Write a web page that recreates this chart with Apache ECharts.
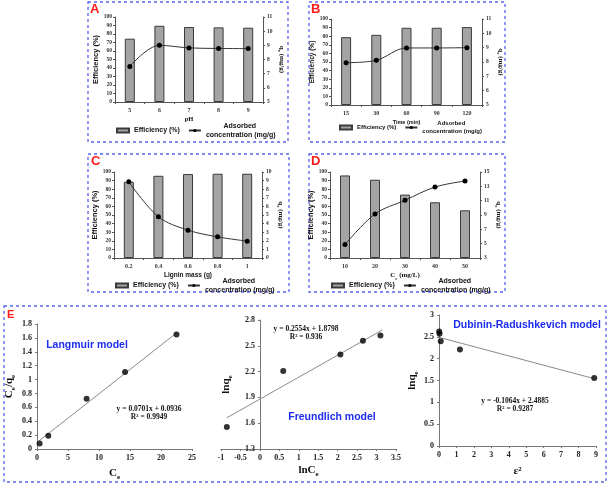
<!DOCTYPE html>
<html>
<head>
<meta charset="utf-8">
<script src="https://cdn.jsdelivr.net/npm/echarts@6/dist/echarts.min.js"></script>
<style>
  html, body { margin: 0; padding: 0; background: #fff; }
  #main { width: 610px; height: 484px; }
</style>
</head>
<body>
<div id="main"></div>
<script>
// panel A - pH
var catA = ['5', '6', '7', '8', '9']
var effA = [74.5, 89.7, 88.2, 87.8, 87.4]
var qeA = [7.5, 9.0, 8.82, 8.78, 8.77]
// panel B - time
var catB = ['15', '30', '60', '90', '120']
var effB = [78.9, 81.6, 89.8, 89.8, 90.6]
var qeB = [7.95, 8.12, 8.98, 8.98, 9.0]
// panel C - lignin mass
var catC = ['0.2', '0.4', '0.6', '0.8', '1']
var effC = [88.6, 95.6, 97.6, 98, 98]
var qeC = [8.86, 4.8, 3.24, 2.46, 1.96]
// panel D - Ce
var catD = ['10', '20', '30', '40', '50']
var effD = [96, 91, 73.7, 64.8, 55.5]
var qeD = [4.87, 9.14, 11.05, 12.9, 13.74]

// panel E - isotherms
var langX = [0.42, 1.82, 8.0, 14.2, 22.5]
var langY = [0.08, 0.19, 0.725, 1.11, 1.65]
var langFit = [0.0701, 0.0936]      // slope, intercept
var freuX = [-0.85, 0.6, 2.07, 2.65, 3.1]
var freuY = [1.556, 2.207, 2.40, 2.56, 2.62]
var freuFit = [0.2554, 1.8798]
var drX = [0.01, 0.03, 0.1, 1.2, 8.9]
var drY = [2.62, 2.57, 2.40, 2.21, 1.56]
var drFit = [-0.1064, 2.4885]

var myChart = echarts.init(document.getElementById('main'))

var serif = 'Liberation Serif'
var sans = 'Liberation Sans'
var blue = '#5b63ee'

function sub(size) {
	return {
		b: {fontFamily: serif, fontWeight: 'bold', fontSize: size, lineHeight: size, color: '#111', verticalAlign: 'top'},
		s: {fontFamily: serif, fontWeight: 'bold', fontSize: Math.round(size * 0.65), lineHeight: Math.round(size * 0.65), color: '#111', padding: [Math.round(size * 0.55), 0, 0, 0], verticalAlign: 'top'}
	}
}

var grids = [], xAxes = [], yAxes = [], series = [], legends = []

function topPanel(cats, eff, qe, layout) {
	var i = grids.length
	grids.push(layout.grid)
	var fs = layout.fs
	xAxes.push({
		type: 'category', gridIndex: i, data: cats,
		name: layout.xName, nameLocation: 'middle', nameGap: 14,
		nameTextStyle: layout.xRich ? {rich: sub(7)} : {fontFamily: layout.xSerif ? serif : sans, fontWeight: 'bold', fontSize: fs - 0.5, color: '#111'},
		axisLine: {lineStyle: {color: '#555', width: 1}},
		axisTick: {show: true, length: 2, lineStyle: {color: '#555'}},
		axisLabel: {fontFamily: serif, fontSize: 6, fontWeight: 'bold', color: '#333', margin: 5}
	})
	yAxes.push({
		type: 'value', gridIndex: i, min: 0, max: 100, interval: 10, position: 'left',
		name: 'Efficiency (%)', nameLocation: 'middle', nameGap: 15,
		nameTextStyle: {fontFamily: sans, fontWeight: 'bold', fontSize: fs + 0.5, color: '#111'},
		splitLine: {show: false},
		axisLine: {show: true, lineStyle: {color: '#555', width: 1}},
		axisTick: {show: true, length: 2, lineStyle: {color: '#555'}},
		axisLabel: {fontFamily: serif, fontSize: 5.5, fontWeight: 'bold', color: '#333', margin: 3}
	})
	yAxes.push({
		type: 'value', gridIndex: i, min: layout.rMin, max: layout.rMax, interval: layout.rInt, position: 'right',
		name: '{b|q}{s|e}{b| (mg/g)}', nameLocation: 'middle', nameGap: 13, nameRotate: -90,
		nameTextStyle: {rich: sub(7)},
		splitLine: {show: false},
		axisLine: {show: true, lineStyle: {color: '#555', width: 1}},
		axisTick: {show: true, length: 2, lineStyle: {color: '#555'}},
		axisLabel: {fontFamily: serif, fontSize: 5.5, fontWeight: 'bold', color: '#333', margin: 4}
	})
	series.push({
		type: 'bar', name: 'Efficiency (%)', xAxisIndex: i, yAxisIndex: 2 * i,
		data: eff, barWidth: 10,
		itemStyle: {color: '#a4a4a4', borderColor: '#3a3a3a', borderWidth: 1}
	})
	series.push({
		type: 'line', name: 'Adsorbed', xAxisIndex: i, yAxisIndex: 2 * i + 1,
		data: qe, smooth: 0.35, symbol: 'circle', symbolSize: 5,
		lineStyle: {color: '#333', width: 1}, itemStyle: {color: '#000'}
	})
	legends.push({
		left: layout.legendLeft, top: layout.legendTop, padding: 0,
		itemWidth: 12, itemHeight: 4, itemGap: layout.legendGap,
		selectedMode: false,
		data: [{name: 'Efficiency (%)', icon: 'rect'}, {name: 'Adsorbed'}],
		formatter: function (n) {
			return n == 'Adsorbed' ? '         Adsorbed\nconcentration (mg/g)' : n
		},
		textStyle: {fontFamily: sans, fontWeight: 'bold', fontSize: fs, color: '#111', lineHeight: fs + 1.5}
	})
}

topPanel(catA, effA, qeA, {grid: {left: 115, top: 17, width: 148, height: 85}, rMin: 5, rMax: 11, rInt: 1,
	xName: 'pH', xSerif: true, fs: 7, legendLeft: 116, legendTop: 122, legendGap: 8})
topPanel(catB, effB, qeB, {grid: {left: 331, top: 19, width: 151, height: 86}, rMin: 5, rMax: 11, rInt: 1,
	xName: 'Time (min)', fs: 6, legendLeft: 339, legendTop: 120, legendGap: 8})
topPanel(catC, effC, qeC, {grid: {left: 114, top: 172, width: 148, height: 86}, rMin: 0, rMax: 10, rInt: 1,
	xName: 'Lignin mass (g)', fs: 7, legendLeft: 115, legendTop: 277, legendGap: 8})
topPanel(catD, effD, qeD, {grid: {left: 330, top: 172, width: 150, height: 86}, rMin: 3, rMax: 15, rInt: 2,
	xName: '{b|C}{s|e}{b| (mg/L)}', xRich: true, fs: 7, legendLeft: 331, legendTop: 277, legendGap: 8})

// isotherm panels
function isoPanel(xs, ys, fit, layout) {
	var i = grids.length
	grids.push(layout.grid)
	var tickLabel = {fontFamily: serif, fontSize: 8, fontWeight: 'bold', color: '#222', margin: 5}
	// y axis sits on x = 0
	var shift = -(0 - layout.x[0]) / (layout.x[1] - layout.x[0]) * layout.grid.width
	xAxes.push({
		type: 'value', gridIndex: i, min: layout.x[0], max: layout.x[1], interval: layout.x[2],
		name: layout.xName, nameLocation: 'middle', nameGap: layout.xGap,
		nameTextStyle: {rich: sub(11)},
		splitLine: {show: false},
		axisLine: {show: true, onZero: false, lineStyle: {color: '#777', width: 1}},
		axisTick: {show: true, length: 2, lineStyle: {color: '#777'}},
		axisLabel: tickLabel
	})
	yAxes.push({
		type: 'value', gridIndex: i, min: layout.y[0], max: layout.y[1], interval: layout.y[2],
		offset: shift,
		name: layout.yName, nameLocation: 'middle', nameGap: layout.yGap,
		nameTextStyle: {rich: sub(11)},
		splitLine: {show: false},
		axisLine: {show: true, onZero: false, lineStyle: {color: '#777', width: 1}},
		axisTick: {show: true, length: 2, lineStyle: {color: '#777'}},
		axisLabel: Object.assign({}, tickLabel, {formatter: function (v) { return +v.toFixed(1) + '' }})
	})
	var x0 = layout.fitRange[0], x1 = layout.fitRange[1]
	series.push({
		type: 'line', name: 'fit' + i, xAxisIndex: i, yAxisIndex: yAxes.length - 1,
		data: [[x0, fit[0] * x0 + fit[1]], [x1, fit[0] * x1 + fit[1]]],
		symbol: 'none', lineStyle: {color: '#8a8a8a', width: 1}, silent: true, z: 1
	})
	series.push({
		type: 'scatter', name: 'pts' + i, xAxisIndex: i, yAxisIndex: yAxes.length - 1,
		data: xs.map(function (x, k) { return [x, ys[k]] }),
		symbol: 'circle', symbolSize: 6, itemStyle: {color: '#000'}, z: 3
	})
}

isoPanel(langX, langY, langFit, {grid: {left: 37, top: 324, width: 155, height: 125},
	x: [0, 25, 5], y: [0, 1.8, 0.2], fitRange: [0.3, 22.6],
	xName: '{b|C}{s|e}', yName: '{b|C}{s|e}{b|/q}{s|e}', xGap: 19, yGap: 22})
isoPanel(freuX, freuY, freuFit, {grid: {left: 221, top: 320, width: 175, height: 129},
	x: [-1, 3.5, 0.5], y: [1.3, 2.8, 0.3], fitRange: [-0.85, 3.15],
	xName: '{b|lnC}{s|e}', yName: '{b|lnq}{s|e}', xGap: 16, yGap: 28})
isoPanel(drX, drY, drFit, {grid: {left: 439, top: 315, width: 157, height: 131},
	x: [0, 9, 1], y: [0, 3, 0.5], fitRange: [0, 8.9],
	xName: '{b|ε²}', yName: '{b|lnq}{s|e}', xGap: 20, yGap: 20})

function box(x, y, w, h) {
	return {type: 'rect', silent: true, shape: {x: x, y: y, width: w, height: h},
		style: {fill: 'none', stroke: blue, lineWidth: 1.3, lineDash: [3, 3]}}
}
function letter(t, x, y, size) {
	return {type: 'text', silent: true, left: x, top: y,
		style: {text: t, fill: '#ff1a1a', font: 'bold ' + size + 'px "Liberation Sans"'}}
}
function note(t, x, y, opts) {
	return {type: 'text', silent: true, x: x, y: y,
		style: Object.assign({text: t, textAlign: 'center', textVerticalAlign: 'middle'}, opts)}
}
var eqStyle = {fill: '#111', font: 'bold 7.5px "Liberation Serif"', lineHeight: 8.5}
var modelStyle = {fill: '#1c2cf0', font: 'bold 10.5px "Liberation Sans"'}

var option = {
	backgroundColor: '#fff',
	animation: false,
	grid: grids,
	xAxis: xAxes,
	yAxis: yAxes,
	legend: legends,
	series: series,
	graphic: [
		box(88, 2, 200, 140),
		box(309, 2, 196, 140),
		box(88, 154, 201, 138),
		box(309, 154, 196, 138),
		box(4, 306, 602, 176),
		letter('A', 90, 3, 13),
		letter('B', 311, 3, 13),
		letter('C', 91, 155, 13),
		letter('D', 311, 155, 13),
		letter('E', 7, 309, 11),
		note('Langmuir model', 87, 345, modelStyle),
		note('y = 0.0701x + 0.0936\nR² = 0.9949', 149, 413, eqStyle),
		note('y = 0.2554x + 1.8798\nR² = 0.936', 306, 333, eqStyle),
		note('Freundlich model', 332, 417, modelStyle),
		note('Dubinin-Radushkevich model', 527, 325, modelStyle),
		note('y = -0.1064x + 2.4885\nR² = 0.9287', 515, 405, eqStyle)
	]
}

myChart.setOption(option)
</script>
</body>
</html>
